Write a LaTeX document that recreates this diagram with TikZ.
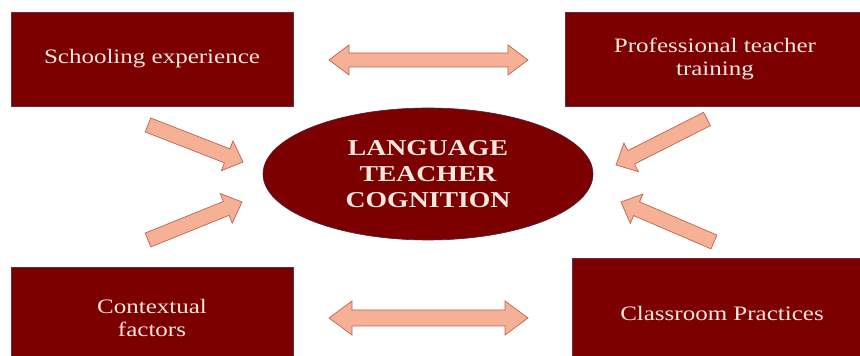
\documentclass[tikz,border=0pt]{standalone}
\usepackage{fontspec}
\setmainfont{Liberation Serif}
\newfontfamily\boxfont[FakeStretch=1.22]{Liberation Serif}
\usetikzlibrary{calc,shapes.geometric}

\definecolor{boxred}{RGB}{124,0,0}
\definecolor{boxedge}{RGB}{100,45,75}
\definecolor{boxtext}{RGB}{246,232,224}
\definecolor{arrowfill}{RGB}{245,176,150}
\definecolor{arrowedge}{RGB}{190,100,80}

\tikzset{
  panel/.style={rectangle, fill=boxred, draw=boxedge, line width=0.6pt,
    inner sep=0pt, align=center, text=boxtext,
    font=\boxfont\fontsize{20.5}{23}\selectfont},
  core/.style={ellipse, fill=boxred, draw=boxedge!80!black, line width=0.6pt,
    inner sep=0pt, align=center, text=boxtext,
    font=\boxfont\bfseries\fontsize{22.7}{26}\selectfont},
  blockarrow/.style={fill=arrowfill, draw=arrowedge, line width=0.7pt, line join=miter}
}

% block arrow from a tail point to a tip point:
% #1 tail, #2 tip, #3 half shaft width, #4 half head width, #5 head length
\newcommand\onewayarrow[5]{%
  \coordinate (ah) at ($(#2)!#5!(#1)$);
  \draw[blockarrow] ($(#1)!#3!90:(#2)$) -- ($(ah)!#3!90:(#2)$) -- ($(ah)!#4!90:(#2)$)
    -- (#2) -- ($(ah)!#4!-90:(#2)$) -- ($(ah)!#3!-90:(#2)$) -- ($(#1)!#3!-90:(#2)$) -- cycle;}

% block arrow with a head at both ends: #1 and #2 are the two tips
\newcommand\twowayarrow[5]{%
  \coordinate (ha) at ($(#1)!#5!(#2)$);
  \coordinate (hb) at ($(#2)!#5!(#1)$);
  \draw[blockarrow] (#1) -- ($(ha)!#4!90:(#2)$) -- ($(ha)!#3!90:(#2)$)
    -- ($(hb)!#3!-90:(#1)$) -- ($(hb)!#4!-90:(#1)$) -- (#2)
    -- ($(hb)!#4!90:(#1)$) -- ($(hb)!#3!90:(#1)$)
    -- ($(ha)!#3!-90:(#2)$) -- ($(ha)!#4!-90:(#2)$) -- cycle;}

\begin{document}
\begin{tikzpicture}[x=1pt, y=1pt]
  \useasboundingbox (0,0) rectangle (860,356);
  \fill[white] (0,0) rectangle (860,356);

  % the four influences
  \node[panel, minimum width=282pt, minimum height=94pt]  (school) at (152,297) {Schooling experience};
  \node[panel, minimum width=300pt, minimum height=94pt]  (prof)   at (715,297) {Professional teacher\\training};
  \node[panel, minimum width=282pt, minimum height=102pt] (context) at (152,38) {Contextual\\factors};
  \node[panel, minimum width=300pt, minimum height=110pt] (class)  at (722,43) {Classroom Practices};

  % the central construct
  \node[core, minimum width=330pt, minimum height=132pt] (ltc) at (428,182) {LANGUAGE\\TEACHER\\COGNITION};

  % arrow end points
  \coordinate (top-l) at (329,296);
  \coordinate (top-r) at (528,296);
  \coordinate (bot-l) at (329,38);
  \coordinate (bot-r) at (528,38);
  \coordinate (ul-tail) at (148,231);
  \coordinate (ul-tip)  at (243,194);
  \coordinate (ll-tail) at (148,116);
  \coordinate (ll-tip)  at (242,154);
  \coordinate (ur-tail) at (707,237);
  \coordinate (ur-tip)  at (616,191);
  \coordinate (lr-tail) at (714,114);
  \coordinate (lr-tip)  at (621,154);

  % two-way links between the outer boxes
  \twowayarrow{top-l}{top-r}{7pt}{15pt}{20pt}
  \twowayarrow{bot-l}{bot-r}{8pt}{17pt}{23pt}

  % influences pointing at the centre
  \onewayarrow{ul-tail}{ul-tip}{7.5pt}{16pt}{17pt}
  \onewayarrow{ll-tail}{ll-tip}{7.5pt}{16pt}{17pt}
  \onewayarrow{ur-tail}{ur-tip}{7.5pt}{16pt}{17pt}
  \onewayarrow{lr-tail}{lr-tip}{7.5pt}{16pt}{17pt}
\end{tikzpicture}
\end{document}
